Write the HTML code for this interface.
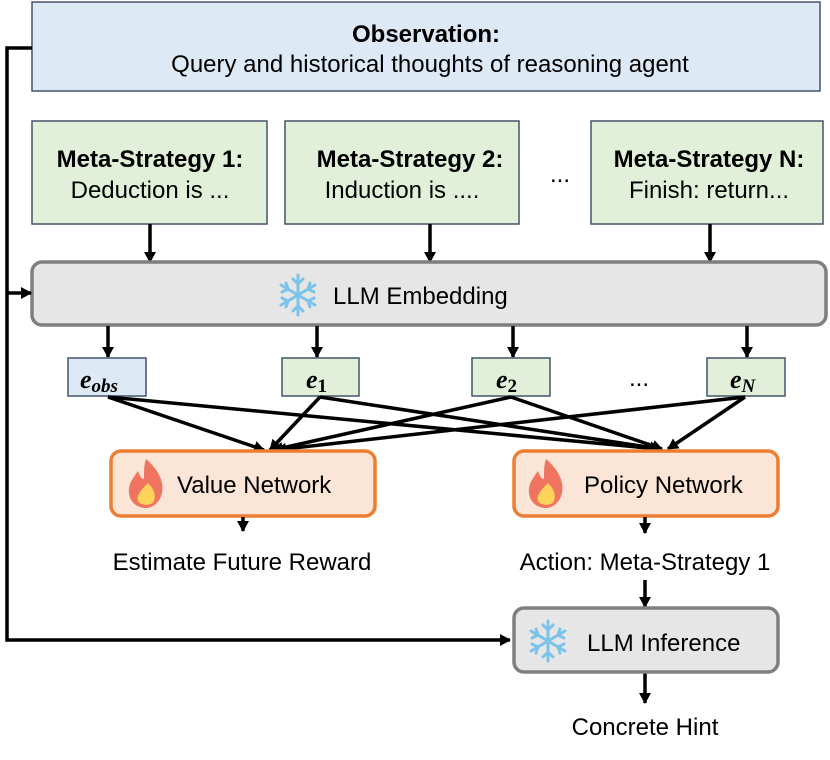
<!DOCTYPE html>
<html><head><meta charset="utf-8"><style>
body{margin:0;width:830px;height:760px;background:#fff;overflow:hidden}
svg{display:block}
text{font-family:"Liberation Sans",sans-serif;font-size:24px;fill:#000}
.b{font-weight:bold}
</style></head><body>
<svg width="830" height="760" viewBox="0 0 830 760">
<defs>
<marker id="a" markerWidth="12" markerHeight="12" refX="10" refY="6" orient="auto" markerUnits="userSpaceOnUse">
<path d="M0,0 L11,6 L0,12 z" fill="#000"/></marker>
<g id="snow" stroke="#7cc3ea" stroke-width="3" stroke-linecap="round" fill="none">
<line x1="0" y1="-20" x2="0" y2="20"/><line x1="-17" y1="-10" x2="17" y2="10"/><line x1="-17" y1="10" x2="17" y2="-10"/>
<path d="M-5,-16 L0,-11 L5,-16 M-5,16 L0,11 L5,16"/>
<path d="M-16,-3 L-10,-6 L-12,-12 M16,3 L10,6 L12,12 M16,-3 L10,-6 L12,-12 M-16,3 L-10,6 L-12,12"/>
</g>
<g id="fire">
<path d="M0,-24 C14,-12 18,0 16,10 C14,20 6,25 0,25 C-8,25 -16,20 -17,10 C-18,0 -12,-6 -8,-12 C-6,-6 -4,-4 -2,-4 C-2,-12 -2,-18 0,-24z" fill="#f07560"/>
<path d="M2,0 C8,6 10,12 8,18 C6,23 -6,23 -8,18 C-10,12 -4,6 2,0z" fill="#fdd35a"/>
</g>
</defs>
<rect x="32" y="2" width="788" height="89" fill="#dee9f6" stroke="#44546a" stroke-width="1.5"/>
<text x="426" y="42" text-anchor="middle" class="b">Observation:</text>
<text x="430" y="72" text-anchor="middle">Query and historical thoughts of reasoning agent</text>
<g fill="#e2efd9" stroke="#44546a" stroke-width="1.5">
<rect x="32" y="121" width="235" height="103"/>
<rect x="285" y="121" width="234" height="103"/>
<rect x="591" y="121" width="232" height="103"/>
</g>
<text x="150" y="167" text-anchor="middle" class="b">Meta-Strategy 1:</text>
<text x="150" y="198" text-anchor="middle">Deduction is ...</text>
<text x="410" y="167" text-anchor="middle" class="b">Meta-Strategy 2:</text>
<text x="402" y="198" text-anchor="middle">Induction is ....</text>
<text x="709" y="167" text-anchor="middle" class="b">Meta-Strategy N:</text>
<text x="709" y="198" text-anchor="middle">Finish: return...</text>
<text x="560" y="182" text-anchor="middle">...</text>
<g stroke="#000" stroke-width="3.5" marker-end="url(#a)" fill="none">
<line x1="150" y1="224" x2="150" y2="262"/>
<line x1="430" y1="224" x2="430" y2="262"/>
<line x1="710" y1="224" x2="710" y2="262"/>
</g>
<rect x="32" y="262" width="794" height="63" rx="10" fill="#e6e6e6" stroke="#7f7f7f" stroke-width="3.5"/>
<use href="#snow" x="298" y="295"/>
<text x="333" y="304">LLM Embedding</text>
<g stroke="#000" stroke-width="3.5" marker-end="url(#a)" fill="none">
<line x1="108" y1="326" x2="108" y2="357"/>
<line x1="317" y1="326" x2="317" y2="357"/>
<line x1="513" y1="326" x2="513" y2="357"/>
<line x1="747" y1="326" x2="747" y2="357"/>
</g>
<rect x="68" y="358" width="78" height="38" fill="#dee9f6" stroke="#44546a" stroke-width="1.5"/>
<g fill="#e2efd9" stroke="#44546a" stroke-width="1.5">
<rect x="282" y="358" width="77" height="38"/>
<rect x="472" y="358" width="78" height="38"/>
<rect x="707" y="358" width="78" height="38"/>
</g>
<g font-weight="bold" font-style="italic">
<text x="80" y="388" style="font-family:'Liberation Serif';font-size:26px">e<tspan style="font-size:19px" dy="4">obs</tspan></text>
<text x="306" y="388" style="font-family:'Liberation Serif';font-size:26px">e<tspan style="font-size:19px;font-style:normal" dy="4">1</tspan></text>
<text x="496" y="388" style="font-family:'Liberation Serif';font-size:26px">e<tspan style="font-size:19px;font-style:normal" dy="4">2</tspan></text>
<text x="730" y="388" style="font-family:'Liberation Serif';font-size:26px">e<tspan style="font-size:19px" dy="4">N</tspan></text>
</g>
<text x="639" y="386" text-anchor="middle">...</text>
<g stroke="#000" stroke-width="3.5" marker-end="url(#a)" fill="none">
<line x1="108" y1="397" x2="264" y2="450"/>
<line x1="320" y1="397" x2="270" y2="450"/>
<line x1="511" y1="397" x2="273" y2="450"/>
<line x1="745" y1="397" x2="276" y2="450"/>
<line x1="108" y1="397" x2="658" y2="449"/>
<line x1="320" y1="397" x2="660" y2="449"/>
<line x1="511" y1="397" x2="662" y2="449"/>
<line x1="745" y1="397" x2="668" y2="449"/>
</g>
<rect x="111" y="451" width="264" height="65" rx="10" fill="#fbe5d6" stroke="#ed7d31" stroke-width="3.5"/>
<use href="#fire" x="146" y="483"/>
<text x="177" y="493">Value Network</text>
<rect x="514" y="451" width="264" height="65" rx="10" fill="#fbe5d6" stroke="#ed7d31" stroke-width="3.5"/>
<use href="#fire" x="546" y="483"/>
<text x="584" y="493">Policy Network</text>
<g stroke="#000" stroke-width="3.5" marker-end="url(#a)" fill="none">
<line x1="243" y1="517" x2="243" y2="531"/>
<line x1="645" y1="517" x2="645" y2="533"/>
<line x1="645" y1="580" x2="645" y2="607"/>
<line x1="645" y1="673" x2="645" y2="703"/>
</g>
<text x="242" y="570" text-anchor="middle">Estimate Future Reward</text>
<text x="645" y="570" text-anchor="middle">Action: Meta-Strategy 1</text>
<rect x="514" y="608" width="264" height="64" rx="10" fill="#e6e6e6" stroke="#7f7f7f" stroke-width="3.5"/>
<use href="#snow" x="548" y="641"/>
<text x="587" y="651">LLM Inference</text>
<text x="645" y="735" text-anchor="middle">Concrete Hint</text>
<g stroke="#000" stroke-width="3.5" fill="none">
<polyline points="32,48 7,48 7,640 510,640" marker-end="url(#a)"/>
<line x1="7" y1="293" x2="31" y2="293" marker-end="url(#a)"/>
</g>
</svg>
</body></html>
